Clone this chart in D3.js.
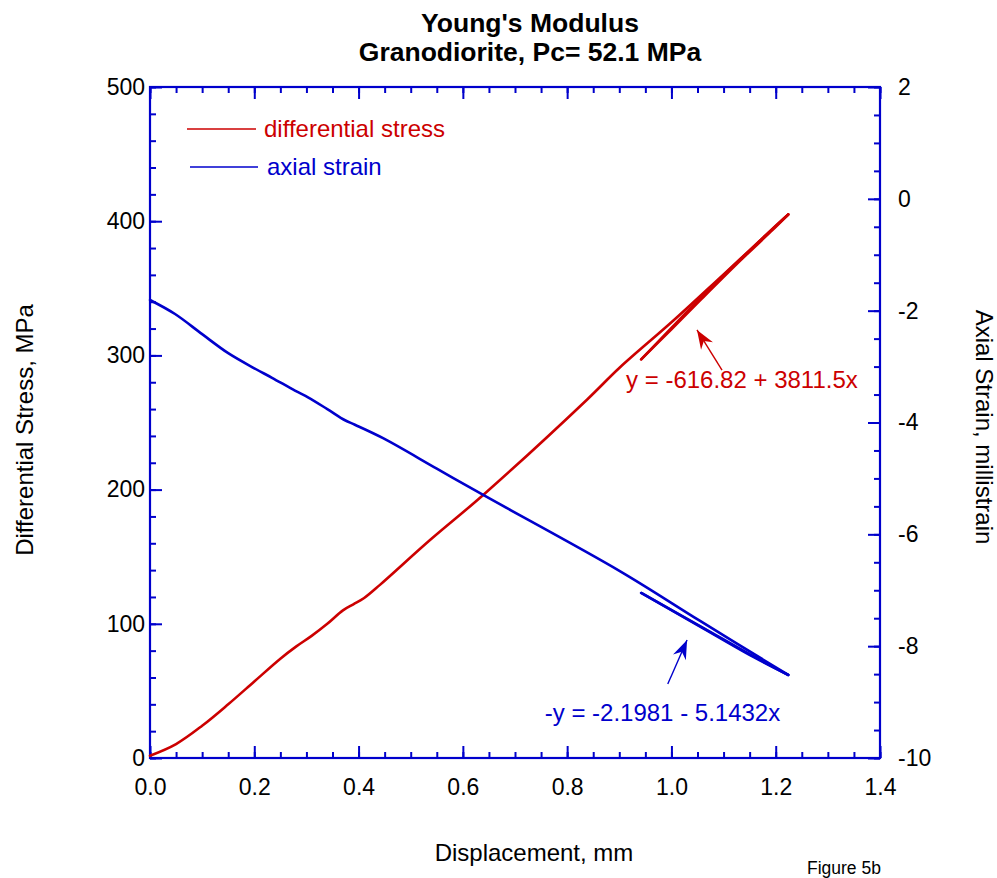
<!DOCTYPE html>
<html>
<head>
<meta charset="utf-8">
<script src="https://cdn.jsdelivr.net/npm/d3@7"></script>
<style>
  body { margin: 0; background: #fff; }
  text { font-family: "Liberation Sans", Arial, sans-serif; }
</style>
</head>
<body>
<script>
// differential stress vs displacement (loading, unloading, reloading)
const stressDisp = [0, 0.05, 0.1, 0.15, 0.2, 0.25, 0.28, 0.31, 0.34, 0.37, 0.39, 0.41, 0.441, 0.537, 0.639, 0.838, 0.901, 1.0, 1.1, 1.224,
                    1.19, 1.133, 1.055, 1.0, 0.942,
                    1.0, 1.055, 1.133, 1.19, 1.224];
const stressVals = [1.7, 10.4, 24, 40, 57, 74, 83, 91, 100, 110, 114.5, 119, 129, 162.4, 196, 267, 291, 324.7, 360.4, 405,
                    392, 371, 341, 319.5, 297,
                    320.5, 342.5, 372, 393, 405];

// axial strain vs displacement
const strainDisp = [0, 0.048, 0.1, 0.15, 0.2, 0.234, 0.278, 0.303, 0.34, 0.374, 0.393, 0.447, 0.55, 0.639, 0.901, 1.055, 1.224,
                    1.157, 1.055, 0.942,
                    1.055, 1.157, 1.224];
const strainVals = [-1.809, -2.06, -2.42, -2.76, -3.03, -3.20, -3.43, -3.55, -3.76, -3.96, -4.04, -4.28, -4.825, -5.296, -6.657, -7.549, -8.515,
                    -8.193, -7.65, -7.049,
                    -7.64, -8.18, -8.515];

const seriesNames = ["differential stress", "axial strain"];
const titleLines = ["Young's Modulus", "Granodiorite, Pc= 52.1 MPa"];
const fitLabels = ["y = -616.82 + 3811.5x", "-y = -2.1981 - 5.1432x"];

const red = "#cc0000", blue = "#0000cc";
const W = 997, H = 878;
const m = { left: 150, right: 880, top: 87, bottom: 758 };

const svg = d3.select("body").append("svg").attr("width", W).attr("height", H);

const x = d3.scaleLinear().domain([0, 1.4]).range([m.left, m.right]);
const yL = d3.scaleLinear().domain([0, 500]).range([m.bottom, m.top]);
const yR = d3.scaleLinear().domain([-10, 2]).range([m.bottom, m.top]);

const tickFont = 23, labelFont = 24;
const fmt = d => String(d);

function styleAxis(g) {
  g.select(".domain").remove();
  g.selectAll(".tick line").attr("stroke", blue).attr("stroke-width", 2);
  g.selectAll("text").attr("fill", "#000").style("font-size", tickFont + "px")
    .style("font-family", '"Liberation Sans", Arial, sans-serif');
}

const xMajor = d3.range(0, 1.41, 0.2).map(v => +v.toFixed(2));
const xMinor = d3.range(0, 1.401, 0.05).map(v => +v.toFixed(2));
const yLMajor = d3.range(0, 501, 100);
const yLMinor = d3.range(0, 501, 20);
const yRMajor = d3.range(-10, 2.01, 2);
const yRMinor = d3.range(-10, 2.01, 0.5);

// bottom
svg.append("g").attr("transform", `translate(0,${m.bottom})`)
  .call(d3.axisBottom(x).tickValues(xMinor).tickSize(-6).tickFormat("")).call(styleAxis);
svg.append("g").attr("transform", `translate(0,${m.bottom})`)
  .call(d3.axisBottom(x).tickValues(xMajor).tickSize(-12).tickPadding(21).tickFormat(d3.format(".1f"))).call(styleAxis);
// top
svg.append("g").attr("transform", `translate(0,${m.top})`)
  .call(d3.axisTop(x).tickValues(xMinor).tickSize(-6).tickFormat("")).call(styleAxis);
svg.append("g").attr("transform", `translate(0,${m.top})`)
  .call(d3.axisTop(x).tickValues(xMajor).tickSize(-12).tickFormat("")).call(styleAxis);
// left
svg.append("g").attr("transform", `translate(${m.left},0)`)
  .call(d3.axisLeft(yL).tickValues(yLMinor).tickSize(-6).tickFormat("")).call(styleAxis);
svg.append("g").attr("transform", `translate(${m.left},0)`)
  .call(d3.axisLeft(yL).tickValues(yLMajor).tickSize(-12).tickPadding(5).tickFormat(fmt)).call(styleAxis);
// right
svg.append("g").attr("transform", `translate(${m.right},0)`)
  .call(d3.axisRight(yR).tickValues(yRMinor).tickSize(-6).tickFormat("")).call(styleAxis);
svg.append("g").attr("transform", `translate(${m.right},0)`)
  .call(d3.axisRight(yR).tickValues(yRMajor).tickSize(-12).tickPadding(18).tickFormat(fmt)).call(styleAxis);

// frame
svg.append("rect")
  .attr("x", m.left).attr("y", m.top)
  .attr("width", m.right - m.left).attr("height", m.bottom - m.top)
  .attr("fill", "none").attr("stroke", blue).attr("stroke-width", 2.2);

// curves
const stressPts = stressDisp.map((d, i) => [d, stressVals[i]]);
const strainPts = strainDisp.map((d, i) => [d, strainVals[i]]);

const lineL = d3.line().x(d => x(d[0])).y(d => yL(d[1])).curve(d3.curveCatmullRom.alpha(0.5));
const lineR = d3.line().x(d => x(d[0])).y(d => yR(d[1])).curve(d3.curveCatmullRom.alpha(0.5));

// split at turning points so the smoothing does not overshoot the loops
function pieces(pts) {
  const out = [];
  let cur = [pts[0]], dir = 0;
  for (let i = 1; i < pts.length; i++) {
    const dd = Math.sign(pts[i][0] - pts[i - 1][0]);
    if (dir !== 0 && dd !== dir) { out.push(cur); cur = [pts[i - 1]]; }
    dir = dd;
    cur.push(pts[i]);
  }
  out.push(cur);
  return out;
}

pieces(stressPts).forEach(p => {
  svg.append("path").attr("d", lineL(p)).attr("fill", "none")
    .attr("stroke", red).attr("stroke-width", 2.6).attr("stroke-linejoin", "round").attr("stroke-linecap", "round");
});
pieces(strainPts).forEach(p => {
  svg.append("path").attr("d", lineR(p)).attr("fill", "none")
    .attr("stroke", blue).attr("stroke-width", 2.6).attr("stroke-linejoin", "round").attr("stroke-linecap", "round");
});

// legend
const legend = svg.append("g");
[[red, 129, 187, 256, 264], [blue, 167, 190, 258, 267]].forEach((r, i) => {
  legend.append("line").attr("x1", r[2]).attr("x2", r[3]).attr("y1", r[1]).attr("y2", r[1])
    .attr("stroke", r[0]).attr("stroke-width", 1.6);
  legend.append("text").attr("x", r[4]).attr("y", r[1] + 8).attr("fill", r[0])
    .style("font-size", labelFont + "px").text(seriesNames[i]);
});

// fit annotations with arrows
function arrow(x1, y1, x2, y2, color) {
  svg.append("line").attr("x1", x1).attr("y1", y1).attr("x2", x2).attr("y2", y2)
    .attr("stroke", color).attr("stroke-width", 1.4);
  const a = Math.atan2(y2 - y1, x2 - x1);
  const L = 19, hw = 7, notch = 13;
  const p = (len, off) => [x2 - len * Math.cos(a) - off * Math.sin(a), y2 - len * Math.sin(a) + off * Math.cos(a)];
  svg.append("polygon")
    .attr("points", [[x2, y2], p(L, hw), p(notch, 0), p(L, -hw)].map(q => q.join(",")).join(" "))
    .attr("fill", color);
}
arrow(x(1.097), yL(289), x(1.049), yL(319), red);
arrow(x(0.993), yR(-8.676), x(1.030), yR(-7.889), blue);

svg.append("text").attr("x", x(0.913)).attr("y", yL(276)).attr("fill", red)
  .style("font-size", labelFont + "px").text(fitLabels[0]);
svg.append("text").attr("x", x(0.757)).attr("y", yR(-9.33)).attr("fill", blue)
  .style("font-size", labelFont + "px").text(fitLabels[1]);

// titles
titleLines.forEach((t, i) => {
  svg.append("text").attr("x", 530).attr("y", 32 + i * 29).attr("text-anchor", "middle")
    .style("font-size", "26.5px").style("font-weight", "bold").text(t);
});

// axis titles
svg.append("text").attr("x", 534).attr("y", 861).attr("text-anchor", "middle")
  .style("font-size", labelFont + "px").text("Displacement, mm");
svg.append("text").attr("transform", "translate(33,430) rotate(-90)").attr("text-anchor", "middle")
  .style("font-size", labelFont + "px").text("Differential Stress, MPa");
svg.append("text").attr("transform", "translate(976,427) rotate(90)").attr("text-anchor", "middle")
  .style("font-size", labelFont + "px").text("Axial Strain, millistrain");
svg.append("text").attr("x", 807).attr("y", 874)
  .style("font-size", "17.5px").text("Figure 5b");
</script>
</body>
</html>
